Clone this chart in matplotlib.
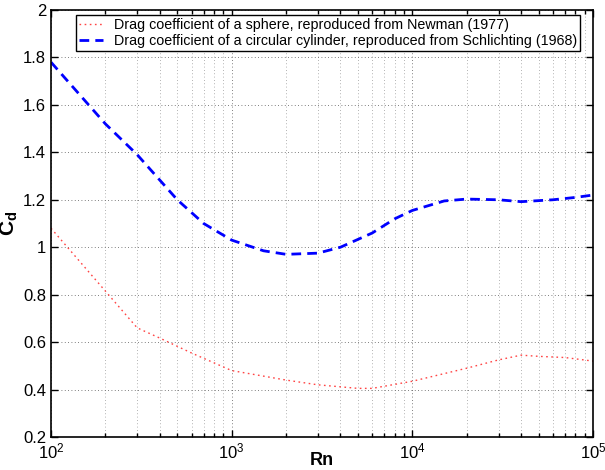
import matplotlib
matplotlib.use('Agg')
from matplotlib import pyplot  # noqa
from matplotlib.ticker import LogLocator, NullFormatter

# Reynolds number vs drag coefficient
re_sphere = [100, 300, 400, 600, 1000, 2000, 3000, 5000, 6000, 10000,
             20000, 30000, 40000, 50000, 70000, 100000]
cd_sphere = [1.08, 0.66, 0.617, 0.554, 0.48, 0.44, 0.42, 0.405, 0.405,
             0.435, 0.49, 0.525, 0.545, 0.54, 0.535, 0.52]

re_cyl = [100, 200, 300, 500, 700, 1000, 1500, 2000, 3000, 4000, 6000,
          8000, 10000, 15000, 20000, 30000, 40000, 60000, 80000, 100000]
cd_cyl = [1.78, 1.52, 1.39, 1.20, 1.10, 1.03, 0.985, 0.97, 0.975, 1.0,
          1.06, 1.12, 1.155, 1.195, 1.203, 1.2, 1.192, 1.2, 1.21, 1.22]

y_ticks = [0.2, 0.4, 0.6, 0.8, 1.0, 1.2, 1.4, 1.6, 1.8, 2.0]
y_ticklabels = ['0.2', '0.4', '0.6', '0.8', '1', '1.2', '1.4', '1.6',
                '1.8', '2']

labels = ['Drag coefficient of a sphere, reproduced from Newman (1977)',
          'Drag coefficient of a circular cylinder, reproduced from '
          'Schlichting (1968)']

pyplot.rcParams['font.family'] = ['Liberation Sans', 'DejaVu Sans']
pyplot.rcParams['mathtext.fontset'] = 'custom'
pyplot.rcParams['mathtext.rm'] = 'Liberation Sans'
pyplot.rcParams['mathtext.bf'] = 'Liberation Sans:bold'

fig = pyplot.figure(figsize=(6.05, 4.7), dpi=100)
ax = fig.add_axes([51/605, 1 - 437/470, 542/605, 427/470])

ax.plot(re_sphere, cd_sphere, ':', color='#ff4444', linewidth=1.0,
        dashes=(1.2, 2.5), label=labels[0])
ax.plot(re_cyl, cd_cyl, '--', color='#0000ff', linewidth=2.0,
        dashes=(3.5, 2.2), label=labels[1])

ax.set_xscale('log')
ax.set_xlim(100, 100000)
ax.set_ylim(0.2, 2.0)
ax.set_yticks(y_ticks)
ax.set_yticklabels(y_ticklabels)
ax.xaxis.set_minor_locator(LogLocator(base=10, subs=range(2, 10)))
ax.xaxis.set_minor_formatter(NullFormatter())

ax.grid(True, which='major', color='#555555', linewidth=0.6,
        dashes=(1, 3))
ax.grid(True, which='minor', axis='x', color='#999999', linewidth=0.6,
        dashes=(1, 3))
ax.tick_params(which='both', direction='in', top=True, right=True,
               labelsize=12, width=1.0)
ax.tick_params(which='major', length=5)
ax.tick_params(which='minor', length=3)
for s in ax.spines.values():
    s.set_linewidth(1.2)

ax.set_xlabel('Rn', fontsize=13, fontweight='bold', labelpad=-7)
ax.set_ylabel(r'$\mathbf{C_d}$', fontsize=15, labelpad=2)

leg = ax.legend(loc='upper center', fontsize=10.3, fancybox=False,
                edgecolor='black', framealpha=1, borderpad=0.2,
                handlelength=1.7, handletextpad=0.75, labelspacing=0.15,
                borderaxespad=0.35, bbox_to_anchor=(0.511, 1.0))
leg.get_frame().set_linewidth(1.0)

pyplot.savefig('out.png', dpi=100)
pyplot.close()
